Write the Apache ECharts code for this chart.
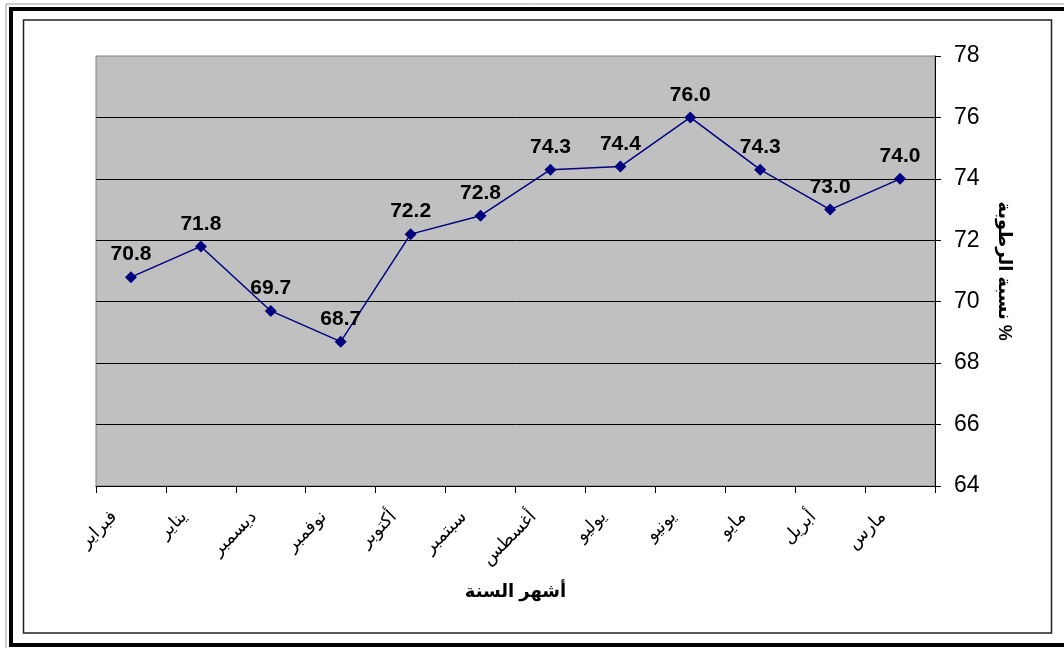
<!DOCTYPE html>
<html>
<head>
<meta charset="utf-8">
<script src="https://cdn.jsdelivr.net/npm/echarts@6/dist/echarts.min.js"></script>
<style>
  html, body { margin: 0; padding: 0; background: #fff; }
  #box { width: 1064px; height: 648px; }
</style>
</head>
<body>
<div id="box"></div>
<script>
// months in chronological order (axis is inverted, so March sits on the right)
const months = ['مارس', 'أبريل', 'مايو', 'يونيو', 'يوليو', 'أغسطس', 'سبتمبر', 'أكتوبر', 'نوفمبر', 'ديسمبر', 'يناير', 'فبراير'];
const humidity = [74.0, 73.0, 74.3, 76.0, 74.4, 74.3, 72.8, 72.2, 68.7, 69.7, 71.8, 70.8];
const yTicks = [64, 66, 68, 70, 72, 74, 76, 78];

const fontLatin = 'Arial, "Liberation Sans", "DejaVu Sans", sans-serif';

let myecharts = echarts.init(document.getElementById('box'));
let options = {
  animation: false,
  backgroundColor: '#fff',
  textStyle: { fontFamily: fontLatin },
  graphic: [
    // outer double frame
    { type: 'rect', shape: { x: 6, y: 4, width: 1062, height: 650 }, style: { fill: null, stroke: '#9a9a9a', lineWidth: 1 }, silent: true },
    { type: 'rect', shape: { x: 11, y: 9, width: 1060, height: 636 }, style: { fill: null, stroke: '#000', lineWidth: 4 }, silent: true },
    // inner chart-area border
    { type: 'rect', shape: { x: 23.5, y: 20, width: 1028, height: 613 }, style: { fill: null, stroke: '#222', lineWidth: 1.5 }, silent: true }
  ],
  grid: {
    left: 96,
    top: 56,
    right: 129,
    bottom: 162,
    show: true,
    backgroundColor: '#c0c0c0',
    borderColor: '#808080',
    borderWidth: 1
  },
  xAxis: {
    type: 'category',
    data: months,
    inverse: true,
    boundaryGap: true,
    name: 'أشهر السنة',
    nameLocation: 'middle',
    nameGap: 97,
    nameTextStyle: { fontSize: 18, fontWeight: 'bold', color: '#000' },
    axisLine: { show: true, lineStyle: { color: '#000', width: 1 } },
    axisTick: { show: true, alignWithLabel: false, length: 7, lineStyle: { color: '#000' } },
    axisLabel: { rotate: 45, fontSize: 18, color: '#000', margin: 11, padding: [0, 24, 0, 0] },
    splitLine: { show: false }
  },
  yAxis: {
    type: 'value',
    position: 'right',
    min: 64,
    max: 78,
    interval: 2,
    name: 'نسبة الرطوبة %',
    nameLocation: 'middle',
    nameRotate: -90,
    nameGap: 60,
    nameTextStyle: { fontSize: 18, fontWeight: 'bold', color: '#000' },
    axisLine: { show: true, lineStyle: { color: '#000', width: 1 } },
    axisTick: { show: true, inside: false, length: 6, lineStyle: { color: '#000' } },
    axisLabel: {
      fontSize: 23,
      color: '#000',
      margin: 19,
      formatter: function (v) { return yTicks.indexOf(v) >= 0 ? String(v) : ''; }
    },
    splitLine: { show: true, showMaxLine: false, lineStyle: { color: '#000', width: 1 } }
  },
  series: [{
    type: 'line',
    data: humidity,
    symbol: 'diamond',
    symbolSize: 12,
    itemStyle: { color: '#000080' },
    lineStyle: { color: '#000080', width: 1.5 },
    label: {
      show: true,
      position: 'top',
      distance: 6,
      fontSize: 21,
      fontWeight: 'bold',
      color: '#000',
      formatter: function (p) { return p.value.toFixed(1); }
    }
  }]
};
myecharts.setOption(options);
window.onresize = function () {
  myecharts.resize();
};
</script>
</body>
</html>
